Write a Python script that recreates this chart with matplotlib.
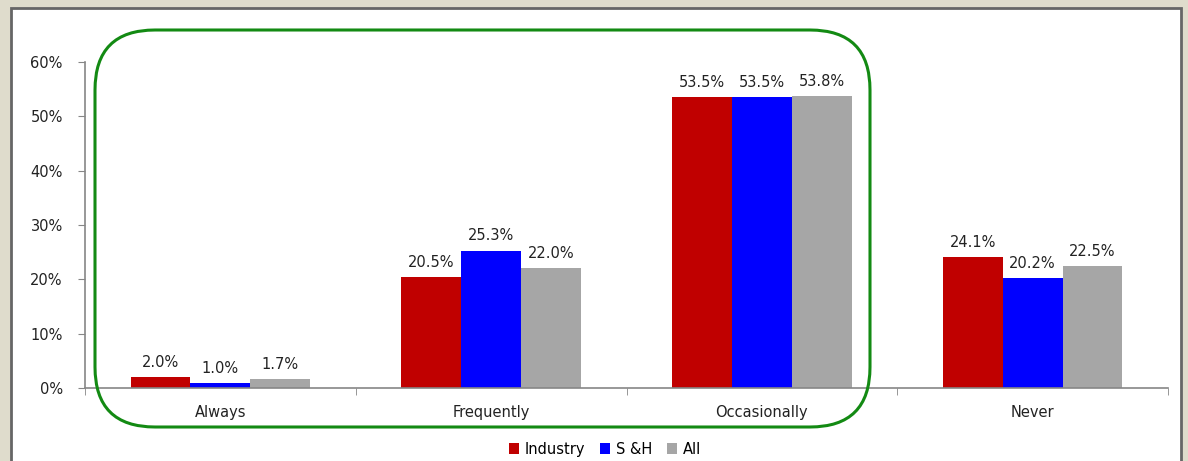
import matplotlib.pyplot as plt
import numpy as np
from matplotlib.patches import FancyBboxPatch, Rectangle
from matplotlib.transforms import IdentityTransform

categories = ["Always", "Frequently", "Occasionally", "Never"]
series = ["Industry", "S &H", "All"]
industry = [2.0, 20.5, 53.5, 24.1]
s_and_h = [1.0, 25.3, 53.5, 20.2]
all_resp = [1.7, 22.0, 53.8, 22.5]
colors = ["#C00000", "#0000FF", "#A6A6A6"]
yticks = [0, 10, 20, 30, 40, 50, 60]

W, H = 1188, 461
fig = plt.figure(figsize=(W / 100, H / 100), dpi=100)
fig.patch.set_facecolor("#DFDCCC")

# white chart panel with dark border (behind the axes)
fig.patches.append(Rectangle((11 / W, -0.05), 1170 / W, 1.05 - 8 / H,
                             transform=fig.transFigure, facecolor="white",
                             edgecolor="#666666", linewidth=2, zorder=-5))

ax = fig.add_axes([85 / W, 73 / H, 1083 / W, 326 / H])
ax.set_facecolor("none")

x = np.arange(len(categories))
bw = 0.221
for i, (vals, c, name) in enumerate(zip([industry, s_and_h, all_resp], colors, series)):
    pos = x + (i - 1) * bw
    ax.bar(pos, vals, width=bw, color=c, label=name, zorder=2)
    for p, v in zip(pos, vals):
        ax.text(p, v + 1.3, f"{v:.1f}%", ha="center", va="bottom",
                fontsize=10.5, color="#222222")

ax.set_xlim(-0.5, len(categories) - 0.5)
ax.set_ylim(0, 60)
ax.set_yticks(yticks)
ax.set_yticklabels([f"{t}%" for t in yticks], fontsize=10.5, color="#222222")
ax.set_xticks(x)
ax.set_xticklabels(categories, fontsize=10.5, color="#222222")
ax.tick_params(axis="x", length=0, pad=12)
ax.set_xticks(np.arange(-0.5, len(categories)), minor=True)
ax.tick_params(axis="x", which="minor", length=5, color="#868686", direction="out")
ax.tick_params(axis="y", length=5, color="#868686", pad=11)
for s in ["top", "right"]:
    ax.spines[s].set_visible(False)
for s in ["left", "bottom"]:
    ax.spines[s].set_color("#868686")
    ax.spines[s].set_linewidth(1.2)

leg = ax.legend(loc="center", bbox_to_anchor=(605 / W, 12 / H),
                bbox_transform=fig.transFigure, ncol=3, frameon=False,
                fontsize=10.5, handlelength=0.7, handleheight=0.7,
                handletextpad=0.4, columnspacing=1.0)

# green rounded highlight box (pixel coordinates)
box = FancyBboxPatch((95, H - 427), 775, 397,
                     boxstyle="round,pad=0,rounding_size=60",
                     transform=IdentityTransform(), facecolor="none",
                     edgecolor="#138A13", linewidth=2.2, zorder=5)
fig.patches.append(box)

fig.savefig("out.png", dpi=100, facecolor=fig.get_facecolor())
